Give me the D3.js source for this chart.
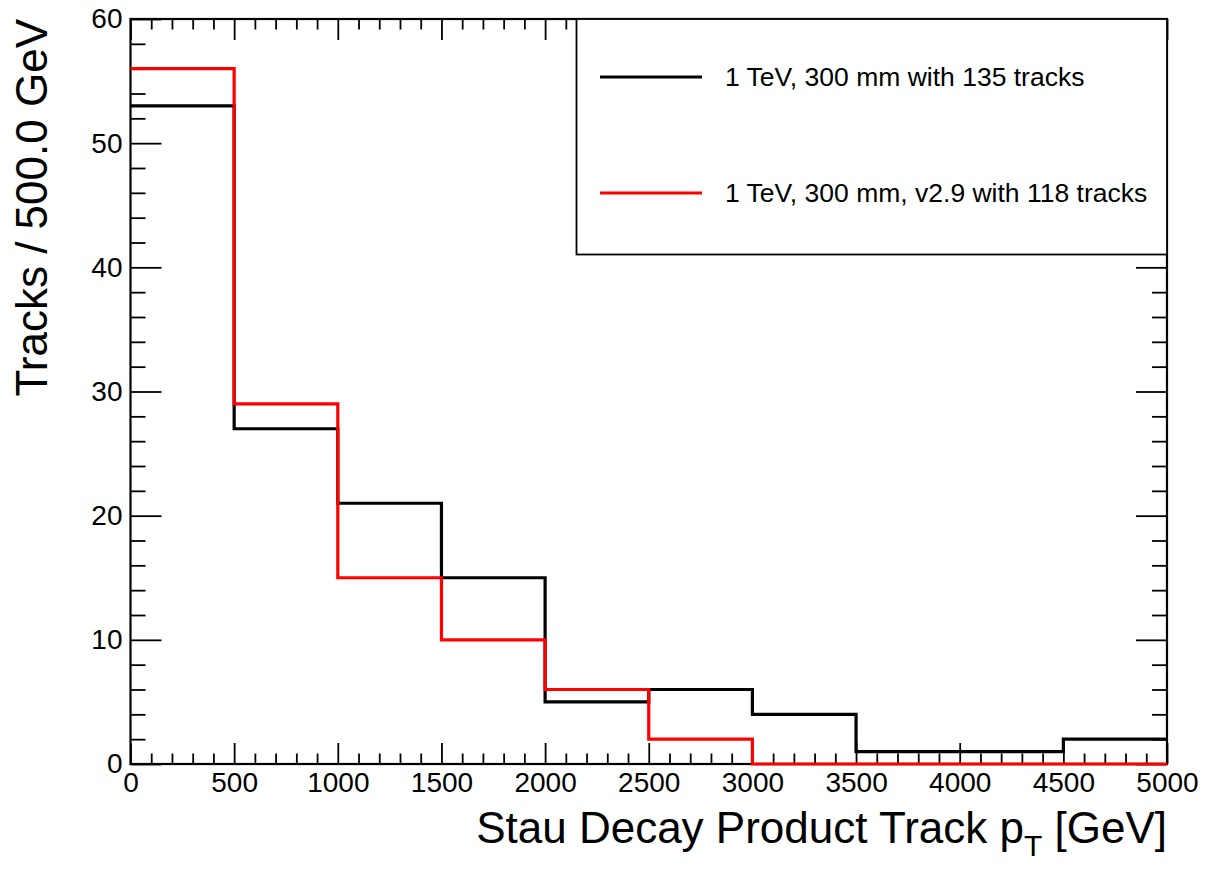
<!DOCTYPE html>
<html>
<head>
<meta charset="utf-8">
<script src="https://cdn.jsdelivr.net/npm/d3@7"></script>
<style>
  body { margin: 0; background: #fff; }
  svg text { font-family: "Liberation Sans", Arial, sans-serif; fill: #000; }
</style>
</head>
<body>
<div id="chart"></div>
<script>
// bin edges in GeV, 500 GeV wide
const binEdges = [0, 500, 1000, 1500, 2000, 2500, 3000, 3500, 4000, 4500, 5000];
const countsV1 = [53, 27, 21, 15, 5, 6, 4, 1, 1, 2];   // 135 tracks
const countsV29 = [56, 29, 15, 10, 6, 2, 0, 0, 0, 0];  // 118 tracks
const xMajorTicks = [0, 500, 1000, 1500, 2000, 2500, 3000, 3500, 4000, 4500, 5000];
const yMajorTicks = [0, 10, 20, 30, 40, 50, 60];
const seriesLabels = ["1 TeV, 300 mm with 135 tracks", "1 TeV, 300 mm, v2.9 with 118 tracks"];
const seriesColors = ["#000000", "#ff0000"];

const width = 1206, height = 869;
const margin = {top: 19, right: 39, bottom: 105, left: 130.5};

const svg = d3.select("#chart").append("svg")
  .attr("width", width)
  .attr("height", height);

const x = d3.scaleLinear().domain([0, 5000]).range([margin.left, width - margin.right]);
const y = d3.scaleLinear().domain([0, 60]).range([height - margin.bottom, margin.top]);

const xMinor = d3.range(0, 5001, 100).filter(v => v % 500 !== 0);
const yMinor = d3.range(0, 61, 2).filter(v => v % 10 !== 0);

function styleAxis(g) {
  g.select(".domain").remove();
  g.selectAll(".tick line").attr("stroke", "#000").attr("stroke-width", 1.8);
}

// bottom axis, ticks pointing in
svg.append("g")
  .attr("transform", `translate(0,${y(0)})`)
  .call(d3.axisBottom(x).tickValues(xMajorTicks).tickSize(-21).tickPadding(8).tickFormat(d3.format("d")))
  .call(styleAxis)
  .call(g => g.selectAll("text").attr("font-size", 28).attr("dy", "0.72em"));
svg.append("g")
  .attr("transform", `translate(0,${y(0)})`)
  .call(d3.axisBottom(x).tickValues(xMinor).tickSize(-10.5).tickFormat(""))
  .call(styleAxis);

// top axis
svg.append("g")
  .attr("transform", `translate(0,${y(60)})`)
  .call(d3.axisTop(x).tickValues(xMajorTicks).tickSize(-21).tickFormat(""))
  .call(styleAxis);
svg.append("g")
  .attr("transform", `translate(0,${y(60)})`)
  .call(d3.axisTop(x).tickValues(xMinor).tickSize(-10.5).tickFormat(""))
  .call(styleAxis);

// left axis
svg.append("g")
  .attr("transform", `translate(${x(0)},0)`)
  .call(d3.axisLeft(y).tickValues(yMajorTicks).tickSize(-31).tickPadding(8))
  .call(styleAxis)
  .call(g => g.selectAll("text").attr("font-size", 28));
svg.append("g")
  .attr("transform", `translate(${x(0)},0)`)
  .call(d3.axisLeft(y).tickValues(yMinor).tickSize(-15).tickFormat(""))
  .call(styleAxis);

// right axis
svg.append("g")
  .attr("transform", `translate(${x(5000)},0)`)
  .call(d3.axisRight(y).tickValues(yMajorTicks).tickSize(-31).tickFormat(""))
  .call(styleAxis);
svg.append("g")
  .attr("transform", `translate(${x(5000)},0)`)
  .call(d3.axisRight(y).tickValues(yMinor).tickSize(-15).tickFormat(""))
  .call(styleAxis);

// frame
svg.append("rect")
  .attr("x", x(0)).attr("y", y(60))
  .attr("width", x(5000) - x(0)).attr("height", y(0) - y(60))
  .attr("fill", "none").attr("stroke", "#000").attr("stroke-width", 2.2);

// step histograms
function stepPoints(counts) {
  const pts = [];
  counts.forEach((c, i) => {
    pts.push([binEdges[i], c]);
    pts.push([binEdges[i + 1], c]);
  });
  return pts;
}
const line = d3.line().x(d => x(d[0])).y(d => y(d[1]));

[countsV1, countsV29].forEach((counts, i) => {
  svg.append("path")
    .attr("d", line(stepPoints(counts)))
    .attr("fill", "none")
    .attr("stroke", seriesColors[i])
    .attr("stroke-width", 3.2)
    .attr("stroke-linejoin", "miter");
});

// legend
const legend = svg.append("g");
legend.append("rect")
  .attr("x", 576.5).attr("y", y(60))
  .attr("width", x(5000) - 576.5).attr("height", 254.5 - y(60))
  .attr("fill", "#fff").attr("stroke", "#000").attr("stroke-width", 1.8);
const legendY = [77, 193];
seriesLabels.forEach((lab, i) => {
  legend.append("line")
    .attr("x1", 600).attr("x2", 702)
    .attr("y1", legendY[i]).attr("y2", legendY[i])
    .attr("stroke", seriesColors[i]).attr("stroke-width", 3.2);
  legend.append("text")
    .attr("x", 725).attr("y", legendY[i])
    .attr("dy", "0.35em")
    .attr("font-size", 26.5)
    .text(lab);
});

// axis titles
const xt = svg.append("text")
  .attr("x", x(5000)).attr("y", 843)
  .attr("text-anchor", "end")
  .attr("font-size", 44);
xt.append("tspan").text("Stau Decay Product Track p");
xt.append("tspan").attr("font-size", 30).attr("dy", 13).text("T");
xt.append("tspan").attr("dy", -13).text(" [GeV]");

svg.append("text")
  .attr("transform", `translate(47,${y(60)}) rotate(-90)`)
  .attr("text-anchor", "end")
  .attr("font-size", 44)
  .text("Tracks / 500.0 GeV");
</script>
</body>
</html>
